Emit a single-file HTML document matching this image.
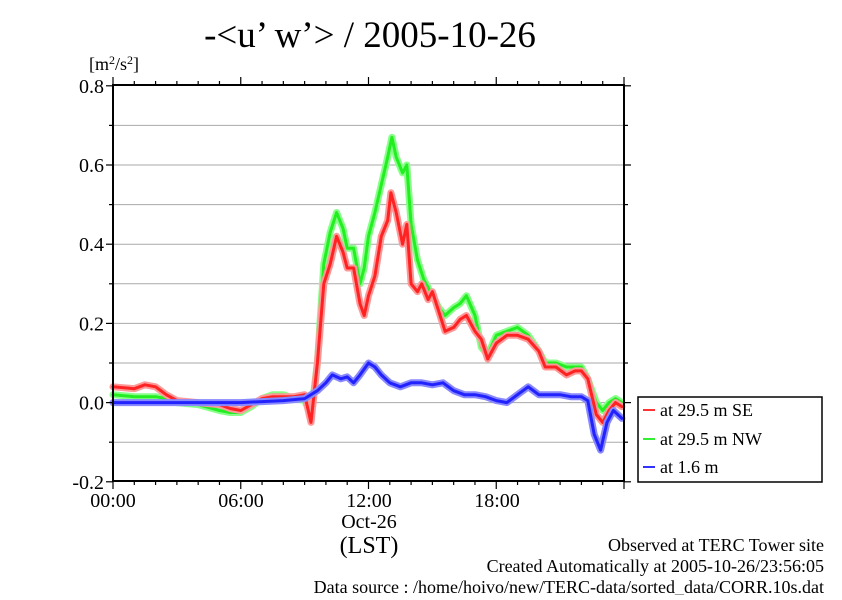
<!DOCTYPE html>
<html><head><meta charset="utf-8"><style>
html,body{margin:0;padding:0;background:#fff;}
svg text{font-family:"Liberation Serif",serif;fill:#000;}
</style></head><body>
<svg id="s" width="842" height="595" viewBox="0 0 842 595" xmlns="http://www.w3.org/2000/svg">
<rect width="842" height="595" fill="#fff"/>
<text x="370" y="47" font-size="37" text-anchor="middle">-&lt;u’ w’&gt; / 2005-10-26</text>
<text x="89" y="70" font-size="18">[m<tspan font-size="12" dy="-6">2</tspan><tspan dy="6">/s</tspan><tspan font-size="12" dy="-6">2</tspan><tspan dy="6">]</tspan></text>
<g id="grid" stroke="#aaa" stroke-width="1"></g>
<g id="series" fill="none" stroke-linejoin="round" stroke-linecap="round"></g>
<g id="axes" stroke="#000" stroke-width="2" fill="none"></g>
<g id="labels" font-size="20"></g>
<text x="113" y="507" font-size="20" text-anchor="middle">00:00</text>
<text x="241" y="507" font-size="20" text-anchor="middle">06:00</text>
<text x="369" y="507" font-size="20" text-anchor="middle">12:00</text>
<text x="497" y="507" font-size="20" text-anchor="middle">18:00</text>
<text x="369" y="528" font-size="20" text-anchor="middle">Oct-26</text>
<text x="369" y="553" font-size="24" text-anchor="middle">(LST)</text>
<rect x="638" y="397" width="184" height="85" fill="#fff" stroke="#000" stroke-width="1.5"/>
<line x1="643" y1="410" x2="655" y2="410" stroke="#f33" stroke-width="2"/>
<line x1="643" y1="439" x2="655" y2="439" stroke="#3e3" stroke-width="2"/>
<line x1="643" y1="467" x2="655" y2="467" stroke="#33f" stroke-width="2"/>
<text x="660" y="416" font-size="18">at 29.5 m SE</text>
<text x="660" y="445" font-size="18">at 29.5 m NW</text>
<text x="660" y="473" font-size="18">at 1.6 m</text>
<text x="824" y="551" font-size="18" text-anchor="end">Observed at TERC Tower site</text>
<text x="824" y="572" font-size="18" text-anchor="end">Created Automatically at 2005-10-26/23:56:05</text>
<text x="824" y="593" font-size="18" text-anchor="end">Data source : /home/hoivo/new/TERC-data/sorted_data/CORR.10s.dat</text>
</svg>
<script>
var NS="http://www.w3.org/2000/svg";
var L=113,R=624,T=85,B=481;
function X(h){return L+h*(R-L)/24;}
function Y(v){return 402.6-v*396;}
function el(p,t,a){var e=document.createElementNS(NS,t);for(var k in a)e.setAttribute(k,a[k]);p.appendChild(e);return e;}
var g=document.getElementById('grid'),ax=document.getElementById('axes'),lb=document.getElementById('labels');
for(var i=-1;i<8;i++){var y=Y(i/10);el(g,'line',{x1:L,x2:R,y1:y,y2:y});}
el(ax,'line',{x1:L,y1:T,x2:L,y2:B});el(ax,'line',{x1:R,y1:T,x2:R,y2:B});
el(ax,'line',{x1:L-1,y1:T,x2:R+1,y2:T});el(ax,'line',{x1:L-1,y1:B,x2:R+1,y2:B});
for(var i=-2;i<=8;i++){var y=Y(i/10),w=(i%2==0)?7:4;
 el(ax,'line',{x1:L-w,x2:L,y1:y,y2:y,'stroke-width':1.2});el(ax,'line',{x1:R,x2:R+w,y1:y,y2:y,'stroke-width':1.2});}
for(var h=0;h<=24;h++){var x=X(h),w=(h%6==0)?8:4;
 el(ax,'line',{x1:x,x2:x,y1:T-w,y2:T,'stroke-width':1.2});el(ax,'line',{x1:x,x2:x,y1:B,y2:B+w,'stroke-width':1.2});}
var yl=[["0.8",0.8],["0.6",0.6],["0.4",0.4],["0.2",0.2],["0.0",0],["-0.2",-0.2]];
yl.forEach(function(a){var t=el(lb,'text',{x:104,y:Y(a[1])+7,'text-anchor':'end'});t.textContent=a[0];});
var red=[[0,.04],[1,.035],[1.5,.045],[2,.04],[2.5,.02],[3,.005],[4,0],[5,-.005],[5.5,-.015],[6,-.02],[6.5,-.005],[7,.01],[7.5,.015],[8,.015],[8.5,.015],[9,.02],[9.3,-.05],[9.6,.1],[9.9,.3],[10.2,.35],[10.5,.42],[10.8,.38],[11,.34],[11.3,.34],[11.6,.25],[11.8,.22],[12,.27],[12.3,.32],[12.6,.42],[12.9,.46],[13.05,.53],[13.3,.48],[13.6,.4],[13.8,.45],[14,.3],[14.3,.28],[14.5,.3],[14.8,.26],[15,.28],[15.3,.23],[15.6,.18],[16,.19],[16.3,.21],[16.6,.22],[17,.18],[17.3,.16],[17.6,.11],[18,.15],[18.5,.17],[19,.17],[19.5,.16],[20,.13],[20.3,.09],[20.8,.09],[21.3,.07],[21.7,.08],[22,.08],[22.3,.06],[22.7,-.03],[23,-.05],[23.3,-.02],[23.6,0],[23.9,-.01]];
var green=[[0,.02],[1,.015],[2,.015],[2.5,.01],[3,0],[4,-.005],[5,-.02],[5.5,-.025],[6,-.025],[6.5,-.01],[7,.01],[7.5,.02],[8,.02],[8.5,.01],[9,.005],[9.3,-.03],[9.6,.1],[9.9,.35],[10.2,.43],[10.5,.48],[10.8,.44],[11,.39],[11.3,.39],[11.6,.3],[11.8,.34],[12,.42],[12.3,.48],[12.6,.55],[12.9,.62],[13.1,.67],[13.3,.62],[13.6,.58],[13.8,.6],[14,.45],[14.3,.36],[14.6,.31],[15,.27],[15.3,.24],[15.6,.22],[16,.24],[16.3,.25],[16.6,.27],[17,.22],[17.3,.14],[17.6,.12],[18,.17],[18.5,.18],[19,.19],[19.5,.17],[20,.13],[20.3,.1],[20.8,.1],[21.3,.09],[21.7,.09],[22,.09],[22.3,.06],[22.7,0],[23,-.02],[23.3,0],[23.6,.01],[23.9,0]];
var blue=[[0,0],[3,0],[6,0],[8,.005],[9,.01],[9.3,.02],[9.6,.03],[10,.05],[10.3,.07],[10.7,.06],[11,.065],[11.3,.05],[11.6,.07],[12,.1],[12.3,.09],[12.6,.07],[13,.05],[13.5,.04],[14,.05],[14.5,.05],[15,.045],[15.5,.05],[16,.03],[16.5,.02],[17,.02],[17.5,.015],[18,.005],[18.5,0],[19,.02],[19.5,.04],[20,.02],[20.5,.02],[21,.02],[21.5,.015],[22,.015],[22.3,.005],[22.6,-.08],[22.9,-.12],[23.2,-.05],[23.5,-.02],[23.9,-.04]];
var sg=document.getElementById('series');
function draw(d,c1,c2){var p=d.map(function(q){return X(q[0]).toFixed(1)+","+Y(q[1]).toFixed(1);}).join(" ");
 el(sg,'polyline',{points:p,stroke:c2,'stroke-width':7});el(sg,'polyline',{points:p,stroke:c1,'stroke-width':3});}
draw(green,'#2e2','#8f8');draw(red,'#f22','#f99');draw(blue,'#22f','#88f');
</script>
</body></html>
